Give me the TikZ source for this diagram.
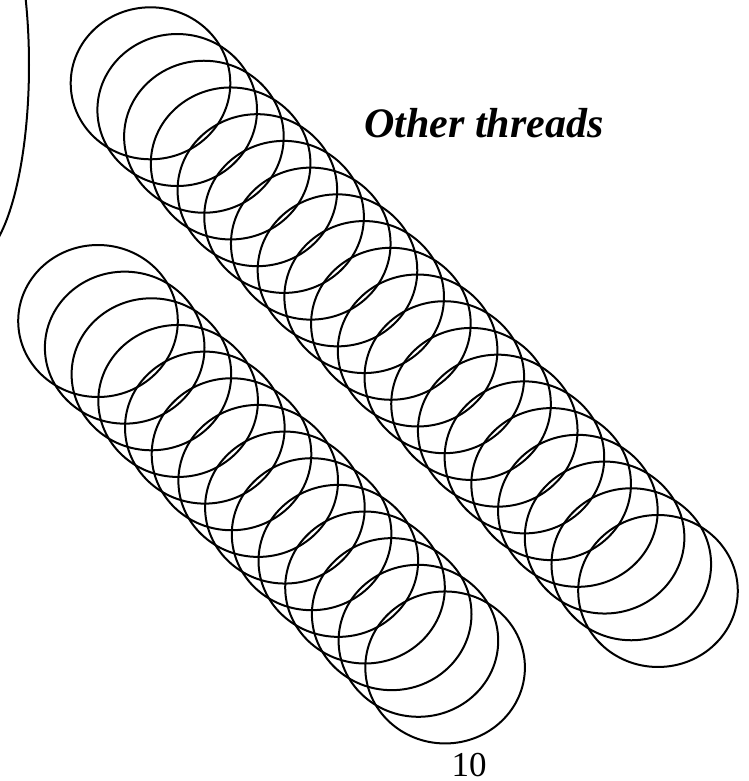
\documentclass[tikz,border=0pt]{standalone}
\usepackage{fontspec}
\setmainfont{Liberation Serif}
\begin{document}
\begin{tikzpicture}[x=1pt,y=-1pt,
  ring/.style={draw=black,line width=2pt},
  label/.style={inner sep=0pt,anchor=base}]
\useasboundingbox (0,0) rectangle (748,781);
\begin{scope}
\clip (0,0) rectangle (748,781);
\draw[ring] (-28,65) ellipse [x radius=57, y radius=195];
\end{scope}
% upper chain: 20 rings
\foreach \i in {0,...,19}{
  \draw[ring] ({150.5+26.71*\i},{83.3+26.72*\i}) ellipse [x radius=79.8, y radius=76];
}
% lower chain: 14 rings
\foreach \i in {0,...,13}{
  \draw[ring] ({98+26.7*\i},{321+26.65*\i}) ellipse [x radius=79.8, y radius=76];
}
\node[label,font=\fontsize{42}{50}\selectfont\bfseries\itshape] (other) at (484,138) {Other threads};
\node[label,font=\fontsize{35}{42}\selectfont] (num) at (469,776) {10};
\end{tikzpicture}
\end{document}
